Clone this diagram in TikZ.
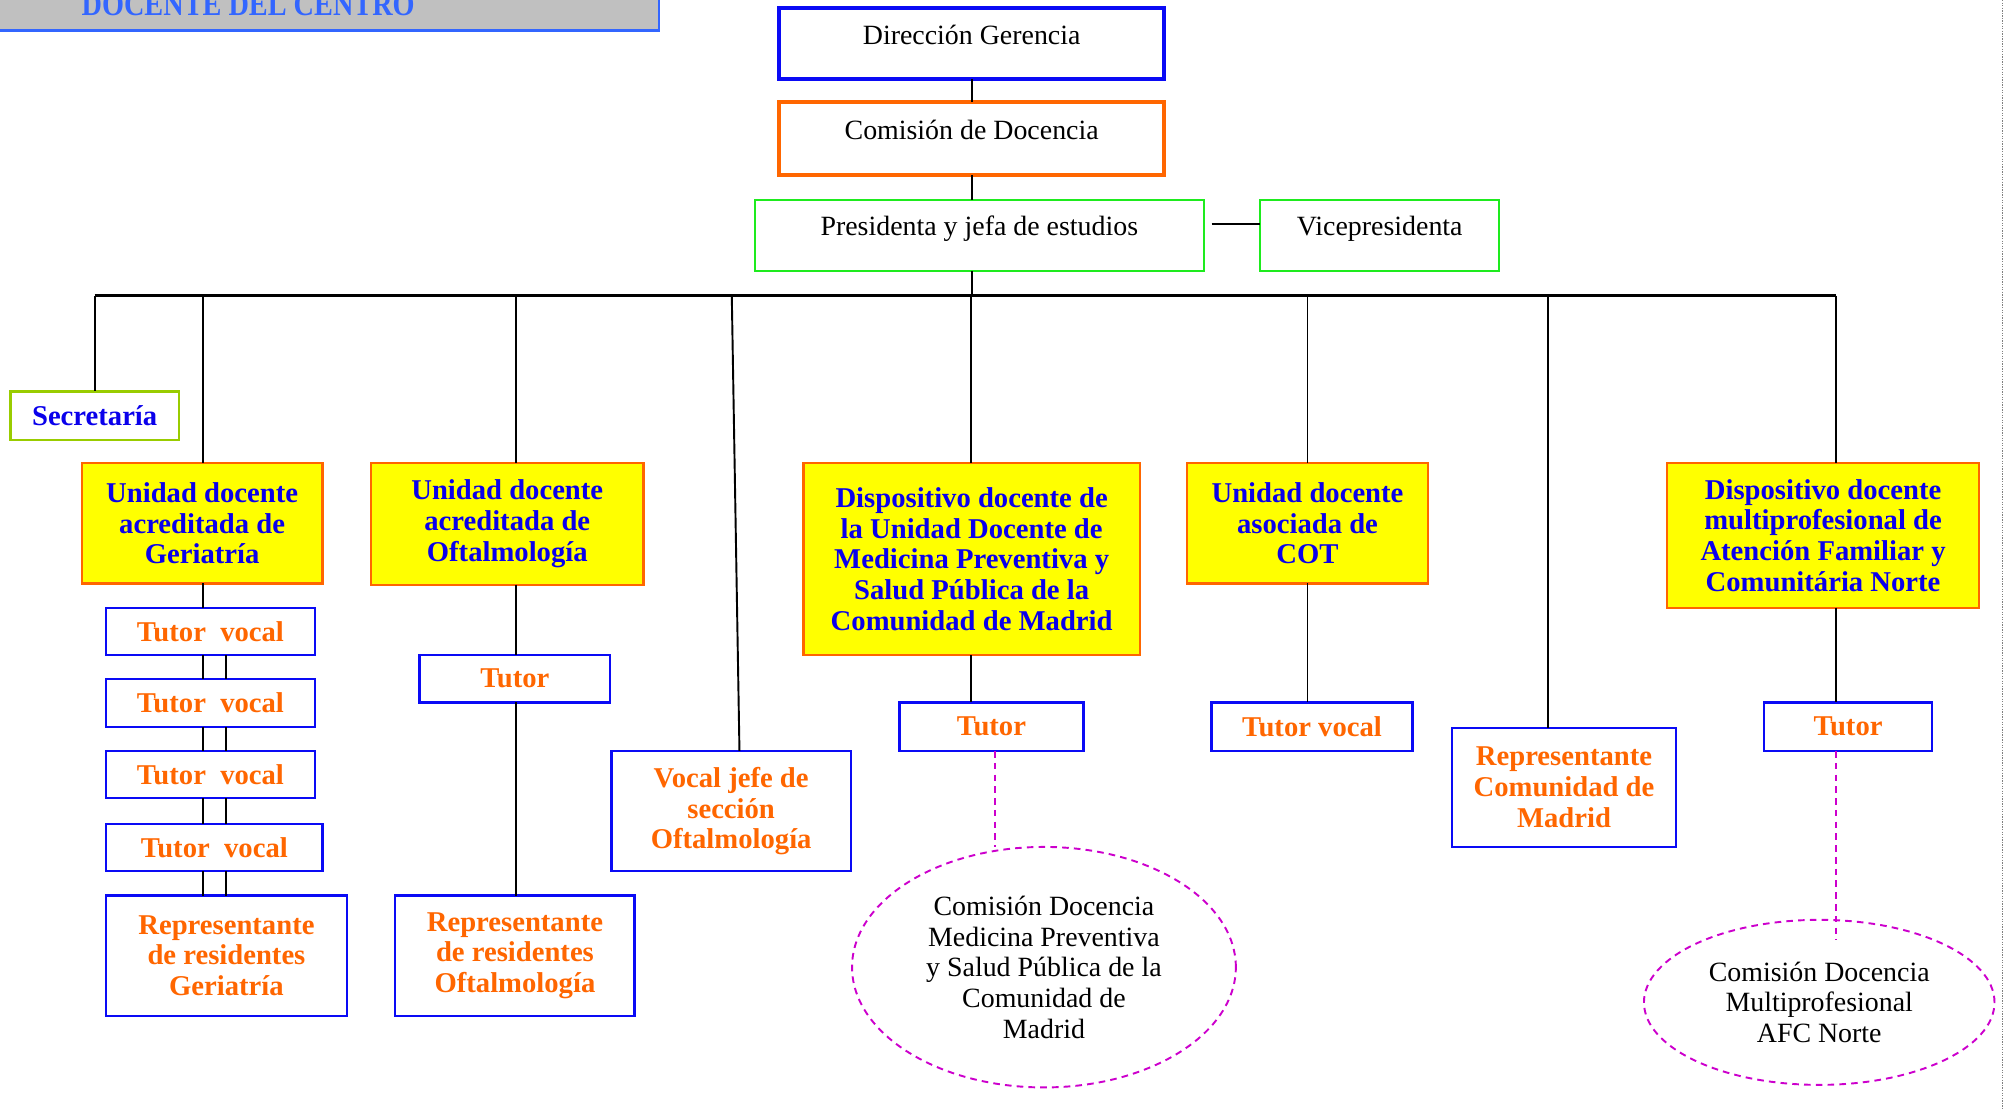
\documentclass[tikz,border=0pt]{standalone}
\usepackage{fontspec}
\setmainfont{Liberation Serif}
\usetikzlibrary{shapes.geometric,calc}
\definecolor{blueB}{RGB}{10,10,245}
\definecolor{orangeC}{RGB}{255,102,0}
\definecolor{greenC}{RGB}{30,235,30}
\definecolor{secC}{RGB}{153,204,0}
\definecolor{hdrGray}{RGB}{192,192,192}
\definecolor{hdrBlue}{RGB}{51,102,255}
\definecolor{blueT}{RGB}{10,0,235}
\definecolor{magC}{RGB}{204,0,204}
\definecolor{yelC}{RGB}{255,255,0}
\begin{document}
\begin{tikzpicture}[x=0.5pt,y=-0.5pt,
  bb/.style n args={4}{minimum width={(#3-#1)*0.5pt}, minimum height={(#4-#2)*0.5pt}, at={({(#1+#3)/2},{(#2+#4)/2})}},
  base/.style={rectangle, inner sep=0pt, outer sep=0pt, align=center},
  topbox/.style={base, font=\fontsize{10.9}{12}\selectfont, text=black, fill=white},
  ybox/.style={base, draw=orangeC, line width=0.9pt, fill=yelC, text=blueT, font=\bfseries\fontsize{11.2}{12}\selectfont},
  wbox/.style={base, draw=blueB, line width=0.9pt, fill=white, text=orangeC, font=\bfseries\fontsize{11.2}{12}\selectfont},
  ell/.style={ellipse, inner sep=0pt, outer sep=0pt, align=center, draw=magC, line width=0.75pt, dash pattern=on 2.6pt off 2pt, font=\fontsize{10.9}{12}\selectfont},
  conn/.style={draw=black, line width=0.75pt},
  busline/.style={draw=black, line width=1pt},
  magline/.style={draw=magC, line width=0.75pt, dash pattern=on 2.6pt off 2pt}
]
\useasboundingbox (0,0) rectangle (1568,867);

% header
\node[base, draw=hdrBlue, line width=1pt, fill=hdrGray, text=hdrBlue, font=\bfseries\fontsize{13}{13}\selectfont, bb={-127}{-40}{515}{24}, text height=26pt, text depth=6pt] (hdr) {\scalebox{0.85}[1]{DOCENTE DEL CENTRO}};

% right dotted border
\coordinate (dtop) at (1565,0);
\coordinate (dbot) at (1565,867);
\draw[gray, line width=0.5pt, dash pattern=on 0.5pt off 0.5pt] (dtop) -- (dbot);

% top chain
\node[topbox, draw=blueB, line width=1.5pt, bb={609}{6}{910}{62}, text height=14.5pt, text depth=13.5pt] (dir) {Dirección Gerencia};
\node[topbox, draw=orangeC, line width=1.5pt, bb={609}{80}{910}{137}, text height=14.5pt, text depth=14pt] (com) {Comisión de Docencia};
\node[topbox, draw=greenC, line width=0.8pt, bb={590}{156}{941}{212}, text height=14pt, text depth=14pt] (pres) {Presidenta y jefa de estudios};
\node[topbox, draw=greenC, line width=0.8pt, bb={985}{156}{1172}{212}, text height=14pt, text depth=14pt] (vice) {Vicepresidenta};

\node[base, draw=secC, line width=1pt, fill=white, text=blueT, font=\bfseries\fontsize{11.2}{12}\selectfont, bb={8}{306}{140}{344}] (sec) {Secretaría};

% yellow boxes
\node[ybox, bb={64}{362}{252}{456}] (ger) {Unidad docente\\acreditada de\\Geriatría};
\node[ybox, bb={290}{362}{503}{457}] (oft) {Unidad docente\\acreditada de\\Oftalmología};
\node[ybox, bb={628}{362}{891}{512}] (mp) {Dispositivo docente de\\la Unidad Docente de\\Medicina Preventiva y\\Salud Pública de la\\Comunidad de Madrid};
\node[ybox, bb={928}{362}{1116}{456}] (cot) {Unidad docente\\asociada de\\COT};
\node[ybox, bb={1303}{362}{1547}{475}] (afc) {Dispositivo docente\\multiprofesional de\\Atención Familiar y\\Comunitária Norte};

% white boxes
\node[wbox, bb={83}{475}{246}{512}] (tv1) {Tutor\ \ vocal};
\node[wbox, bb={83}{531}{246}{568}] (tv2) {Tutor\ \ vocal};
\node[wbox, bb={83}{587}{246}{624}] (tv3) {Tutor\ \ vocal};
\node[wbox, bb={83}{644}{252}{681}] (tv4) {Tutor\ \ vocal};
\node[wbox, bb={83}{700}{271}{794}] (rg) {Representante\\de residentes\\Geriatría};
\node[wbox, bb={328}{512}{477}{549}] (ofT) {Tutor};
\node[wbox, bb={309}{700}{496}{794}] (ro) {Representante\\de residentes\\Oftalmología};
\node[wbox, bb={478}{587}{665}{681}] (vj) {Vocal jefe de\\sección\\Oftalmología};
\node[wbox, bb={703}{549}{847}{587}] (mpT) {Tutor};
\node[wbox, bb={947}{549}{1104}{587}] (cotT) {Tutor vocal};
\node[wbox, bb={1135}{569}{1310}{662}] (rcm) {Representante\\Comunidad de\\Madrid};
\node[wbox, bb={1379}{549}{1510}{587}] (afT) {Tutor};

% ellipses
\node[ell, bb={666}{662}{966}{850}] (cmp) {Comisión Docencia\\Medicina Preventiva\\y Salud Pública de la\\Comunidad de\\Madrid};
\node[ell, bb={1285}{719}{1559}{848}] (cafc) {Comisión Docencia\\Multiprofesional\\AFC Norte};

% connectors top
\draw[conn] (dir.south) -- (dir.south |- com.north);
\draw[conn] (dir.south |- com.south) -- (dir.south |- pres.north);
\coordinate (busL) at (sec.north |- 0,231);
\coordinate (busR) at (1435,231);
\draw[conn] (dir.south |- pres.south) -- (dir.south |- busL);
\draw[conn, shorten <=3pt] ([yshift=4.5pt]pres.east) -- ([yshift=4.5pt]vice.west);

% bus
\draw[busline] (busL) -- (busR);
\draw[conn] (busL) -- (sec.north);
\coordinate (gxa) at (159,0);
\coordinate (gxb) at (177,0);
\draw[conn] (busL -| gxa) -- (gxa |- ger.north);
\coordinate (ofx) at (403,0);
\draw[conn] (busL -| ofx) -- (ofx |- oft.north);
\draw[conn] (ofx |- oft.south) -- (ofx |- ofT.north);
\draw[conn] (ofx |- ofT.south) -- (ofx |- ro.north);
\coordinate (vjb) at (572,231);
\coordinate (vjt) at (578,0);
\draw[conn] (vjb) -- (vjt |- vj.north);
\coordinate (mpx) at (759,0);
\draw[conn] (busL -| mpx) -- (mpx |- mp.north);
\draw[conn] (mpx |- mp.south) -- (mpx |- mpT.north);
\coordinate (cotx) at (1022,0);
\draw[conn] (busL -| cotx) -- (cotx |- cot.north);
\draw[conn] (cotx |- cot.south) -- (cotx |- cotT.north);
\coordinate (rcx) at (1210,231);
\draw[conn] (rcx) -- (rcx |- rcm.north);
\draw[conn] (busR) -- (busR |- afc.north);
\draw[conn] (busR |- afc.south) -- (busR |- afT.north);

% geriatria stack
\draw[conn] (gxa |- ger.south) -- (gxa |- tv1.north);
\foreach \a/\b in {tv1/tv2,tv2/tv3,tv3/tv4,tv4/rg}{
  \draw[conn] (gxa |- \a.south) -- (gxa |- \b.north);
  \draw[conn] (gxb |- \a.south) -- (gxb |- \b.north);
}

% dashed links
\coordinate (mdx) at (778,0);
\draw[magline] (mdx |- mpT.south) -- (mdx |- cmp.north);
\coordinate (afe) at (1435,735);
\draw[magline] (busR |- afT.south) -- (afe);
\end{tikzpicture}
\end{document}
